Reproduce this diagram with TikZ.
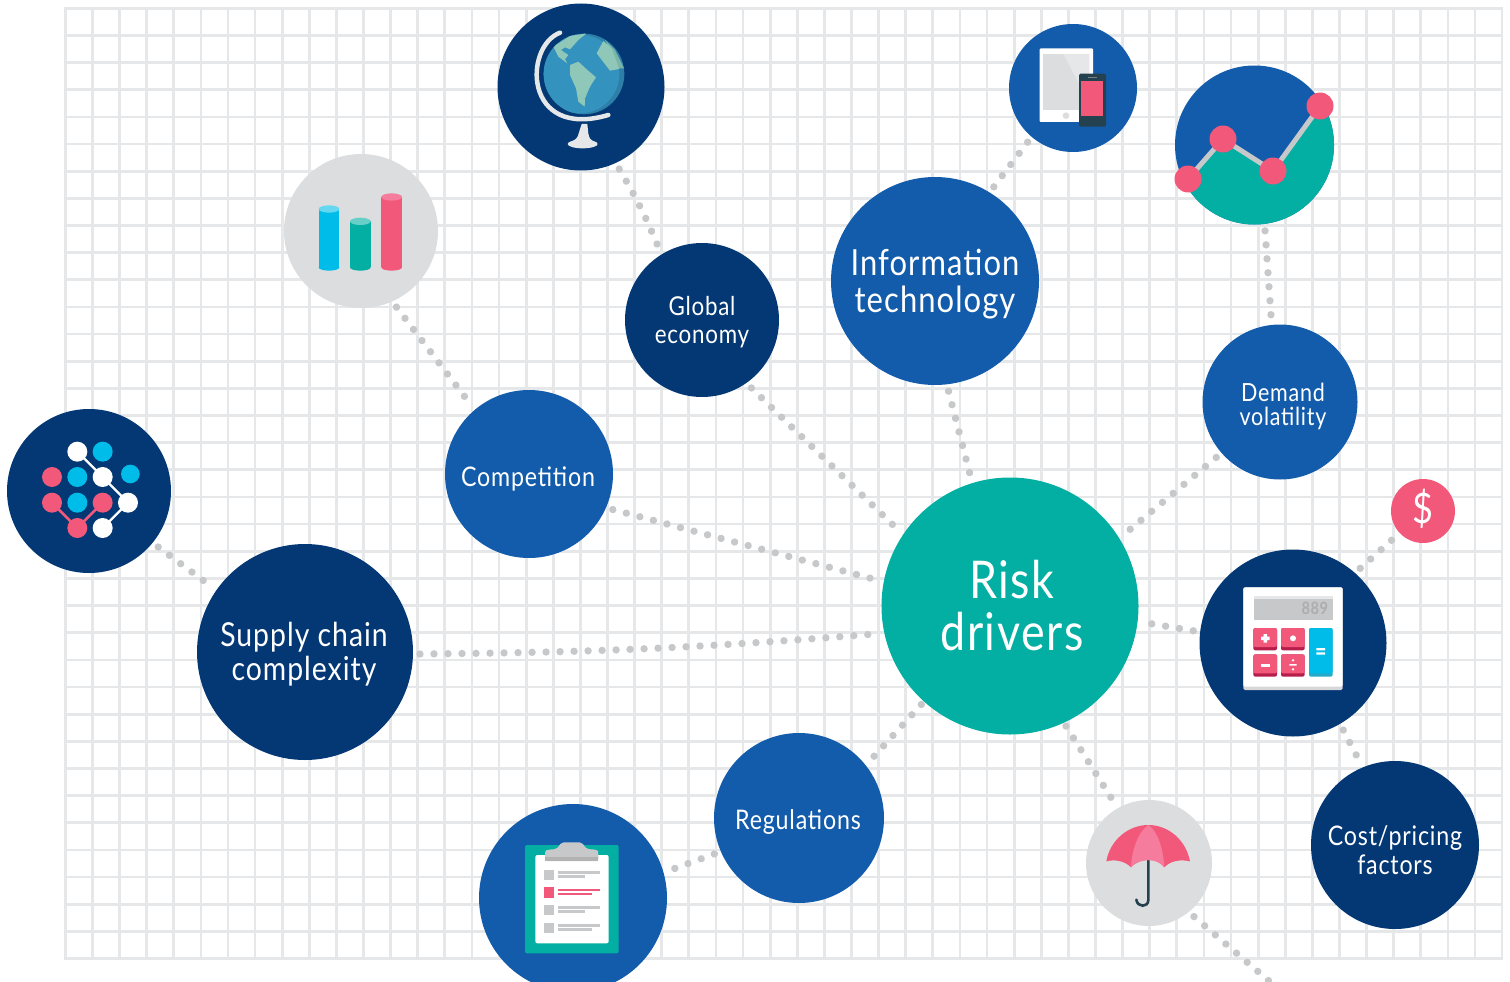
\documentclass[tikz,border=0pt]{standalone}
\usepackage{fontspec}
\setmainfont[FakeStretch=0.86,LetterSpace=3]{Lato}
\usetikzlibrary{backgrounds}
\definecolor{navy}{HTML}{033875}
\definecolor{midblue}{HTML}{135CAB}
\definecolor{teal2}{HTML}{02AFA2}
\definecolor{pink2}{HTML}{F2587A}
\definecolor{pinkl}{HTML}{F57C9C}
\definecolor{pinkd}{HTML}{B81E4B}
\definecolor{grey2}{HTML}{DCDDDF}
\definecolor{dotc}{HTML}{C7C8CA}
\definecolor{cyan2}{HTML}{00BCE8}
\definecolor{gridc}{HTML}{E6E7E9}
\definecolor{slate}{HTML}{24414F}
\definecolor{ocean}{HTML}{3392BE}
\definecolor{oceand}{HTML}{2D7FA8}
\definecolor{land}{HTML}{8FC7B8}
\definecolor{landd}{HTML}{7AB5A8}
\tikzset{
 ball/.style={circle,inner sep=0pt,outer sep=7pt,minimum size=#1},
 captext/.style={text=white,align=center},
 dots/.style={draw=dotc,line width=7.4pt,line cap=round,dash pattern=on 0.01pt off 14pt},
 zoomed/.style={shift={(#1)},scale=1/3},
}
\begin{document}
\begin{tikzpicture}[x=1pt,y=-1pt]
\useasboundingbox (0,0) rectangle (1510,982);
\clip (0,0) rectangle (1510,982);
% circles
\node[ball=257pt,outer sep=4pt,fill=teal2,label={[captext,yshift=0pt,xshift=2pt,font=\fontsize{52}{52}\selectfont]center:Risk\\drivers}] (risk) at (1010,606) {};
\node[ball=208pt,fill=midblue,label={[captext,yshift=-3pt,font=\fontsize{36}{37}\selectfont]center:Information\\technology}] (info) at (935,281) {};
\node[ball=216pt,fill=navy,label={[captext,yshift=-2pt,xshift=-1pt,font=\fontsize{33}{34}\selectfont]center:Supply chain\\complexity}] (supply) at (305,652) {};
\node[ball=154pt,fill=navy,label={[captext,yshift=-2pt,font=\fontsize{26}{28}\selectfont]center:Global\\economy}] (econ) at (702,320) {};
\node[ball=168pt,fill=midblue,label={[captext,yshift=-5pt,xshift=-1pt,font=\fontsize{27}{28}\selectfont]center:Competition}] (comp) at (529,474) {};
\node[ball=155pt,fill=midblue,label={[captext,yshift=-4pt,xshift=3pt,font=\fontsize{25}{24}\selectfont]center:Demand\\volatility}] (demand) at (1280,402) {};
\node[ball=170pt,fill=midblue,label={[captext,yshift=-4pt,xshift=-1pt,font=\fontsize{27}{28}\selectfont]center:Regulations}] (reg) at (799,818) {};
\node[ball=168pt,fill=navy,label={[captext,yshift=-5pt,font=\fontsize{27}{29}\selectfont]center:Cost/pricing\\factors}] (cost) at (1395,845) {};
\node[ball=167pt,fill=navy] (globe) at (581,87) {};
\node[ball=128pt,outer sep=5.5pt,fill=midblue] (tablet) at (1073,88) {};
\node[ball=159pt,fill=midblue] (chart) at (1254.5,145) {};
\node[ball=154pt,fill=grey2] (bars) at (361,231) {};
\node[ball=164pt,fill=navy] (network) at (89,491) {};
\node[ball=187pt,fill=navy] (calc) at (1293,643) {};
\node[ball=64pt,fill=pink2,label={[captext,yshift=2pt,font=\fontsize{42}{42}\selectfont]center:\$}] (dollar) at (1423,511) {};
\node[ball=188pt,fill=midblue] (clip) at (573,898) {};
\node[ball=126pt,fill=grey2] (umb) at (1149,863) {};
\coordinate (free) at (1276,987);
% grid and connectors
\begin{scope}[on background layer]
\foreach \i in {0,...,53} \draw[gridc,line width=2.7pt] ({65.3+27.11*\i},8.3-1.35) -- ({65.3+27.11*\i},958.5+1.35);
\foreach \j in {0,...,35} \draw[gridc,line width=2.7pt] (65.3-1.35,{8.3+27.148*\j}) -- (1502+1.35,{8.3+27.148*\j});
\draw[dots] (globe.-65) to[bend left=4] (econ.121);
\draw[dots] (info.58) -- (tablet.230);
\draw[dots] (chart.-83) -- (demand.96);
\draw[dots] (bars.-65) -- (comp.130);
\draw[dots] (network.-39) -- (supply.145);
\draw[dots] (comp.-23) -- (risk.169);
\draw[dots] (supply.-1) to[bend right=2] (risk.192);
\draw[dots] (econ.-54) -- (risk.146);
\draw[dots] (info.-83) -- (risk.107);
\draw[dots] (demand.221) -- (risk.32);
\draw[dots] (calc.173) -- (risk.-7);
\draw[dots] (calc.48) -- (dollar.223);
\draw[dots] (calc.-60) -- (cost.113);
\draw[dots] (risk.228) -- (reg.39);
\draw[dots] (reg.203) -- (clip.16);
\draw[dots] (risk.-65) -- (umb.120);
\draw[dots] (umb.-50) -- (free);
\end{scope}
% globe icon
\begin{scope}[zoomed={490,0}]
\fill[oceand] (282,222) circle (121);
\begin{scope}
\clip (282,222) circle (121);
\fill[ocean] (270,222) circle (118);
\fill[landd] (345,120) -- (375,150) -- (402,205) -- (385,205) -- (350,130) -- cycle;
\fill[land] (190,140) -- (240,108) -- (290,100) -- (265,120) -- (240,148) -- (225,142) -- (213,150) -- (235,165) -- (225,178) -- (232,190) -- (205,170) -- cycle;
\fill[land] (240,195) -- (265,185) -- (290,208) -- (318,232) -- (300,260) -- (285,295) -- (284,320) -- (265,305) -- (258,265) -- (240,225) -- cycle;
\fill[land] (340,123) -- (365,145) -- (388,207) -- (360,212) -- (320,160) -- cycle;
\end{scope}
\draw[gridc,line width=4.5pt,line cap=round] (210,98) .. controls (100,140) and (100,420) .. (355,345);
\fill[gridc] (275,372) -- (292,372) -- (295,400) .. controls (297,415) and (303,420) .. (310,425) -- (245,425) .. controls (258,418) and (264,412) .. (266,400) -- cycle;
\fill[gridc] (278,432) ellipse (45 and 13);
\end{scope}
% tablet icon
\begin{scope}[zoomed={1000,15}]
\fill[white,rounded corners=1pt] (119,100) rectangle (279,321);
\fill[grey2] (129,117) rectangle (268,285);
\fill[gridc] (190,117) -- (268,117) -- (268,285) -- (245,220) -- cycle;
\fill[grey2] (198,302) circle (10);
\fill[slate,rounded corners=1.5pt] (237,176) rectangle (318,335);
\fill[pink2] (243,198) rectangle (309,303);
\draw[gray,line width=1pt] (265,188) -- (291,188);
\end{scope}
% chart icon
\begin{scope}
\clip (chart.center) circle (79.5);
\fill[teal2] (1188,179) -- (1223,139) -- (1273,171) -- (1320,106) -- (1340,106) -- (1340,230) -- (1170,230) -- (1170,179) -- cycle;
\end{scope}
\draw[dotc,line width=5pt] (1188,179) -- (1223,139) -- (1273,171) -- (1320,106);
\foreach \p in {(1188,179),(1223,139),(1273,171),(1320,106)} \fill[pink2] \p circle (13.5);
% bars icon
\begin{scope}[zoomed={280,150}]
\foreach \x/\t/\c/\d in {116/176/cyan2/cyan2!60!white,210/213/teal2/teal2!60!white,304/140/pink2/pinkl}{
 \fill[\c] (\x,\t) rectangle (\x+62,352);
 \fill[\c] (\x+31,352) ellipse (31 and 10);
 \fill[\d] (\x+31,\t+1) ellipse (31 and 11);
}
\end{scope}
% network icon
\begin{scope}[zoomed={0,405}]
\draw[white,line width=2.3pt] (232,140) -- (308,216) -- (384,293) -- (308,369);
\draw[pink2,line width=2.6pt] (156,293) -- (232,369) -- (308,293);
\foreach \x/\y/\c in {232/140/white,308/140/cyan2,156/216/pink2,232/216/cyan2,308/216/white,156/293/pink2,232/293/cyan2,308/293/pink2,384/293/white,232/369/pink2,308/369/white}
 \fill[\c] (\x,\y) circle (30);
\fill[cyan2] (391,207) circle (28);
\end{scope}
% calculator icon
\begin{scope}[zoomed={1200,470}]
\fill[gridc!85!gray,rounded corners=1.5pt] (130,352) rectangle (428,660);
\fill[white,rounded corners=1.5pt] (130,352) rectangle (428,650);
\fill[dotc] (162,378) rectangle (399,450);
\fill[gridc] (162,378) rectangle (399,387);
\node[font=\bfseries\fontsize{17}{17}\selectfont,text=black!32,anchor=east,inner sep=0pt] (num) at (385,414) {889};
\foreach \x/\y in {160/474,243/474,160/553,243/553}{
 \fill[pinkd,rounded corners=2pt] (\x,\y) rectangle (\x+71,\y+67);
 \fill[pink2,rounded corners=2pt] (\x,\y) rectangle (\x+71,\y+57);
}
\fill[cyan2!70!gray,rounded corners=2pt] (327,474) rectangle (398,620);
\fill[cyan2,rounded corners=2pt] (327,474) rectangle (398,610);
\fill[white] (183,500) rectangle (209,510) (191,492) rectangle (201,518);
\fill[white] (279,505) circle (9);
\fill[white] (183,581) rectangle (209,590);
\fill[white] (268,582) rectangle (290,587) (279,571) circle (4) (279,598) circle (4);
\fill[white] (349,534) rectangle (375,541) (349,547) rectangle (375,554);
\end{scope}
% clipboard icon
\begin{scope}[zoomed={475,800}]
\fill[teal2,rounded corners=2pt] (150,135) rectangle (431,460);
\fill[white,rounded corners=2pt] (181,165) rectangle (401,430);
\fill[dotc,rounded corners=2pt] (210,183) -- (210,160) .. controls (212,148) and (235,148) .. (245,147) -- (260,127) -- (320,127) -- (335,147) .. controls (350,148) and (368,148) .. (370,160) -- (370,183) -- cycle;
\fill[black!30] (210,172) rectangle (370,183);
\foreach \y/\w/\c in {210/330/dotc,262/352/pink2,315/330/dotc,368/352/dotc}{
 \fill[\c] (207,\y) rectangle (238,\y+31);
 \fill[\c] (250,\y+4) rectangle (375,\y+12);
 \fill[\c] (250,\y+16) rectangle (\w,\y+24);
}
\end{scope}
% umbrella icon
\begin{scope}[zoomed={1080,795}]
\draw[slate,line width=2.6pt,line cap=round] (205,195) -- (205,315) .. controls (205,338) and (172,338) .. (169,314);
\fill[pink2] (79,199) .. controls (90,135) and (145,90) .. (205,90) .. controls (265,90) and (318,135) .. (330,199) .. controls (300,192) and (270,198) .. (253,217) .. controls (240,200) and (222,195) .. (205,195) .. controls (188,195) and (168,200) .. (153,217) .. controls (135,198) and (105,192) .. (79,199) -- cycle;
\fill[pinkl] (205,90) .. controls (235,110) and (250,165) .. (253,217) .. controls (240,200) and (222,195) .. (205,195) .. controls (188,195) and (168,200) .. (153,217) .. controls (155,165) and (175,110) .. (205,90) -- cycle;
\end{scope}
\end{tikzpicture}
\end{document}
